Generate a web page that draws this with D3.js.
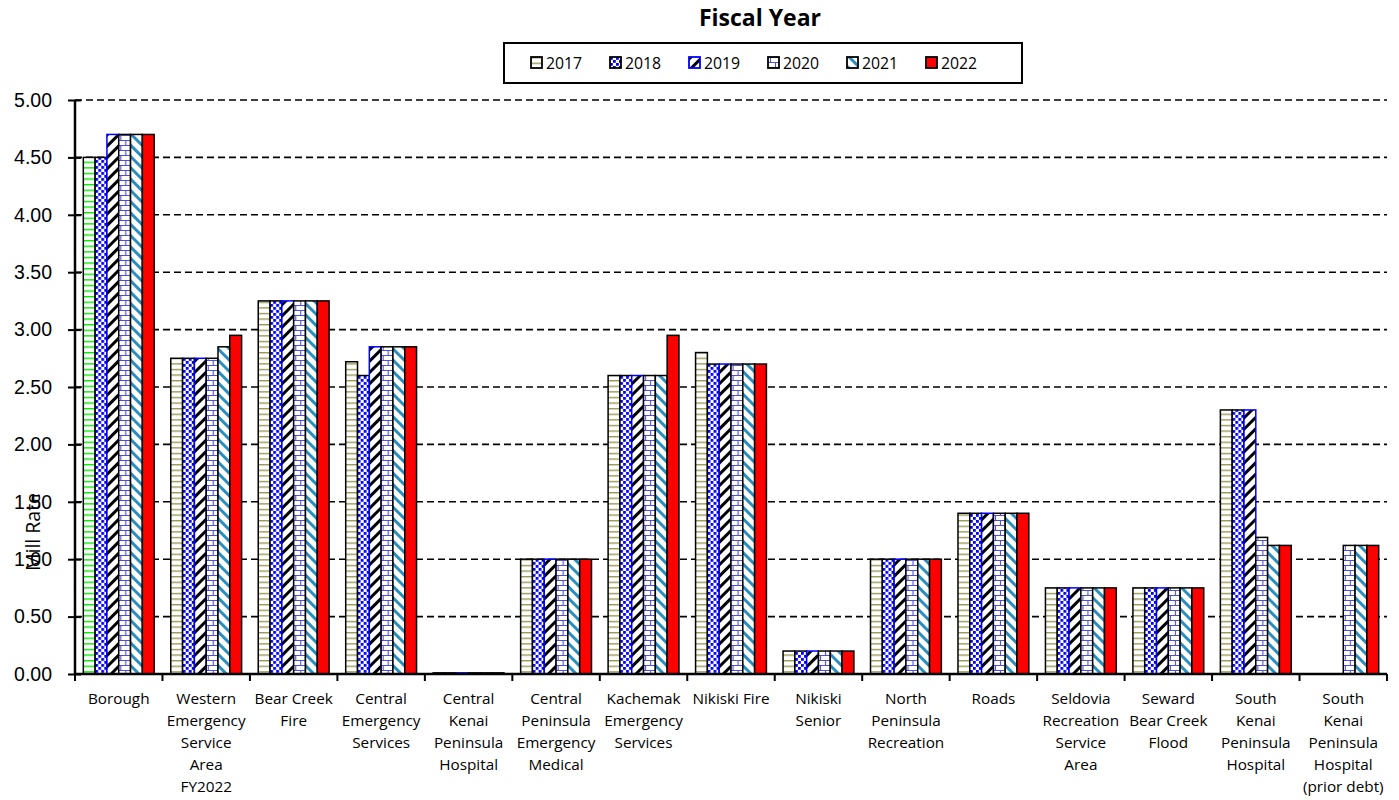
<!DOCTYPE html>
<html>
<head>
<meta charset="utf-8">
<script src="https://cdn.jsdelivr.net/npm/d3@7"></script>
<style>
  body { margin: 0; background: #fff; }
  svg { font-family: "Open Sans", "Noto Sans", sans-serif; }
</style>
</head>
<body>
<div id="chart"></div>
<script>
const WIDTH = 1399;
const HEIGHT = 800;

const categories = [
  ['Borough'],
  ['Western', 'Emergency', 'Service', 'Area', 'FY2022'],
  ['Bear Creek', 'Fire'],
  ['Central', 'Emergency', 'Services'],
  ['Central', 'Kenai', 'Peninsula', 'Hospital'],
  ['Central', 'Peninsula', 'Emergency', 'Medical'],
  ['Kachemak', 'Emergency', 'Services'],
  ['Nikiski Fire'],
  ['Nikiski', 'Senior'],
  ['North', 'Peninsula', 'Recreation'],
  ['Roads'],
  ['Seldovia', 'Recreation', 'Service', 'Area'],
  ['Seward', 'Bear Creek', 'Flood'],
  ['South', 'Kenai', 'Peninsula', 'Hospital'],
  ['South', 'Kenai', 'Peninsula', 'Hospital', '(prior debt)']
];

const years = ['2017', '2018', '2019', '2020', '2021', '2022'];

// one array per fiscal year, in category order (null = no bar)
const fy2017 = [4.50, 2.75, 3.25, 2.72, 0.01, 1.00, 2.60, 2.80, 0.20, 1.00, 1.40, 0.75, 0.75, 2.30, null];
const fy2018 = [4.50, 2.75, 3.25, 2.60, 0.01, 1.00, 2.60, 2.70, 0.20, 1.00, 1.40, 0.75, 0.75, 2.30, null];
const fy2019 = [4.70, 2.75, 3.25, 2.85, 0.01, 1.00, 2.60, 2.70, 0.20, 1.00, 1.40, 0.75, 0.75, 2.30, null];
const fy2020 = [4.70, 2.75, 3.25, 2.85, 0.01, 1.00, 2.60, 2.70, 0.20, 1.00, 1.40, 0.75, 0.75, 1.19, 1.12];
const fy2021 = [4.70, 2.85, 3.25, 2.85, 0.01, 1.00, 2.60, 2.70, 0.20, 1.00, 1.40, 0.75, 0.75, 1.12, 1.12];
const fy2022 = [4.70, 2.95, 3.25, 2.85, 0.01, 1.00, 2.95, 2.70, 0.20, 1.00, 1.40, 0.75, 0.75, 1.12, 1.12];
const series = [fy2017, fy2018, fy2019, fy2020, fy2021, fy2022];

const yTicks = [0, 0.5, 1, 1.5, 2, 2.5, 3, 3.5, 4, 4.5, 5];

const margin = { top: 100, right: 12, bottom: 126, left: 75 };
const width = WIDTH - margin.left - margin.right;
const height = HEIGHT - margin.top - margin.bottom;

const svg = d3.select('#chart').append('svg')
  .attr('width', WIDTH)
  .attr('height', HEIGHT);

// Fill patterns
const defs = svg.append('defs');

function hLines(id, color) {
  const p = defs.append('pattern').attr('id', id)
    .attr('patternUnits', 'userSpaceOnUse').attr('width', 6).attr('height', 5.6);
  p.append('rect').attr('width', 6).attr('height', 5.6).attr('fill', '#fff');
  p.append('rect').attr('y', 0).attr('width', 6).attr('height', 1.4).attr('fill', color);
}
hLines('p2017', '#9a9a55');
hLines('p2017b', '#00ee00');

const dots = defs.append('pattern').attr('id', 'p2018')
  .attr('patternUnits', 'userSpaceOnUse').attr('width', 6).attr('height', 6);
dots.append('rect').attr('width', 6).attr('height', 6).attr('fill', '#fff');
dots.append('rect').attr('x', 0).attr('y', 0).attr('width', 2.8).attr('height', 2.8).attr('fill', '#0000ff');
dots.append('rect').attr('x', 3).attr('y', 3).attr('width', 2.8).attr('height', 2.8).attr('fill', '#0000ff');

const up = defs.append('pattern').attr('id', 'p2019')
  .attr('patternUnits', 'userSpaceOnUse').attr('width', 8).attr('height', 8)
  .attr('patternTransform', 'rotate(45)');
up.append('rect').attr('width', 8).attr('height', 8).attr('fill', '#fff');
up.append('rect').attr('width', 3).attr('height', 8).attr('fill', '#000');

const brick = defs.append('pattern').attr('id', 'p2020')
  .attr('patternUnits', 'userSpaceOnUse').attr('width', 10).attr('height', 10);
brick.append('rect').attr('width', 10).attr('height', 10).attr('fill', '#fff');
brick.append('path')
  .attr('d', 'M0,0.5H10M0,5.5H10M2.5,0V5M7.5,5V10')
  .attr('stroke', '#5050d0').attr('stroke-width', 1.1).attr('fill', 'none');

const down = defs.append('pattern').attr('id', 'p2021')
  .attr('patternUnits', 'userSpaceOnUse').attr('width', 8).attr('height', 8)
  .attr('patternTransform', 'rotate(-45)');
down.append('rect').attr('width', 8).attr('height', 8).attr('fill', '#fff');
down.append('rect').attr('width', 3).attr('height', 8).attr('fill', '#2a8fbf');

const fills = ['url(#p2017)', 'url(#p2018)', 'url(#p2019)', 'url(#p2020)', 'url(#p2021)', '#ff0000'];
const strokes = ['#000', '#000', '#0000ff', '#000', '#000', '#000'];

const g = svg.append('g')
  .attr('transform', `translate(${margin.left},${margin.top})`);

const x0 = d3.scaleBand()
  .domain(d3.range(categories.length))
  .range([0, width])
  .paddingInner(0.19)
  .paddingOuter(0.095);

const x1 = d3.scaleBand()
  .domain(years)
  .range([0, x0.bandwidth()]);

const y = d3.scaleLinear()
  .domain([0, 5])
  .range([height, 0]);

const step = width / categories.length;

// Gridlines
g.append('g')
  .selectAll('line')
  .data(yTicks.filter(d => d > 0))
  .join('line')
  .attr('x1', 0).attr('x2', width)
  .attr('y1', d => y(d)).attr('y2', d => y(d))
  .attr('stroke', '#000')
  .attr('stroke-width', 1.6)
  .attr('stroke-dasharray', '7,4');

// Bars
const groups = g.append('g')
  .selectAll('g')
  .data(categories.map((c, i) => i))
  .join('g')
  .attr('transform', i => `translate(${x0(i)},0)`);

groups.selectAll('rect')
  .data(i => years.map((yr, k) => ({ cat: i, k, yr, v: series[k][i] })).filter(d => d.v != null))
  .join('rect')
  .attr('x', d => x1(d.yr))
  .attr('y', d => y(d.v))
  .attr('width', x1.bandwidth())
  .attr('height', d => y(0) - y(d.v))
  .attr('fill', d => (d.cat === 0 && d.k === 0) ? 'url(#p2017b)' : fills[d.k])
  .attr('stroke', d => strokes[d.k])
  .attr('stroke-width', 1.5);

// Y axis
const yAxis = g.append('g')
  .call(d3.axisLeft(y).tickValues(yTicks).tickFormat(d3.format('.2f')).tickSize(7).tickPadding(16));
yAxis.select('.domain').remove();
yAxis.selectAll('.tick line').attr('stroke', '#000').attr('stroke-width', 2).attr('x2', 6).attr('x1', -7);
yAxis.selectAll('.tick text').attr('font-size', '19.5px').attr('fill', '#000');
g.append('line')
  .attr('x1', 0).attr('x2', 0).attr('y1', 0).attr('y2', height)
  .attr('stroke', '#000').attr('stroke-width', 2.5);

// X axis
g.append('line')
  .attr('x1', 0).attr('x2', width).attr('y1', height).attr('y2', height)
  .attr('stroke', '#000').attr('stroke-width', 2.5);
g.append('g')
  .selectAll('line')
  .data(d3.range(categories.length + 1))
  .join('line')
  .attr('x1', i => i * step).attr('x2', i => i * step)
  .attr('y1', height).attr('y2', height + 7)
  .attr('stroke', '#000').attr('stroke-width', 2);

const labels = g.append('g')
  .selectAll('text')
  .data(categories)
  .join('text')
  .attr('transform', (d, i) => `translate(${(i + 0.5) * step},${height + 30})`)
  .attr('text-anchor', 'middle')
  .attr('font-size', '15.3px')
  .attr('fill', '#000');
labels.selectAll('tspan')
  .data(d => d)
  .join('tspan')
  .attr('x', 0)
  .attr('dy', (d, i) => i === 0 ? 0 : 22)
  .text(d => d);

// Y label
svg.append('text')
  .attr('transform', 'translate(40,532) rotate(-90)')
  .attr('text-anchor', 'middle')
  .attr('font-size', '19.5px')
  .attr('fill', '#000')
  .text('Mill Rate');

// Title
svg.append('text')
  .attr('x', 760).attr('y', 26)
  .attr('text-anchor', 'middle')
  .attr('font-size', '23px')
  .attr('font-weight', 'bold')
  .text('Fiscal Year');

// Legend
const legend = svg.append('g');
legend.append('rect')
  .attr('x', 504).attr('y', 43).attr('width', 518).attr('height', 40)
  .attr('fill', '#fff').attr('stroke', '#000').attr('stroke-width', 2);

const items = legend.selectAll('g.item')
  .data(years)
  .join('g')
  .attr('class', 'item')
  .attr('transform', (d, i) => `translate(${531 + i * 79},57)`);
items.append('rect')
  .attr('width', 11).attr('height', 11)
  .attr('fill', (d, i) => fills[i])
  .attr('stroke', (d, i) => strokes[i])
  .attr('stroke-width', 1.8);
items.append('text')
  .attr('x', 15).attr('y', 11.5)
  .attr('font-size', '15.8px')
  .text(d => d);
</script>
</body>
</html>
